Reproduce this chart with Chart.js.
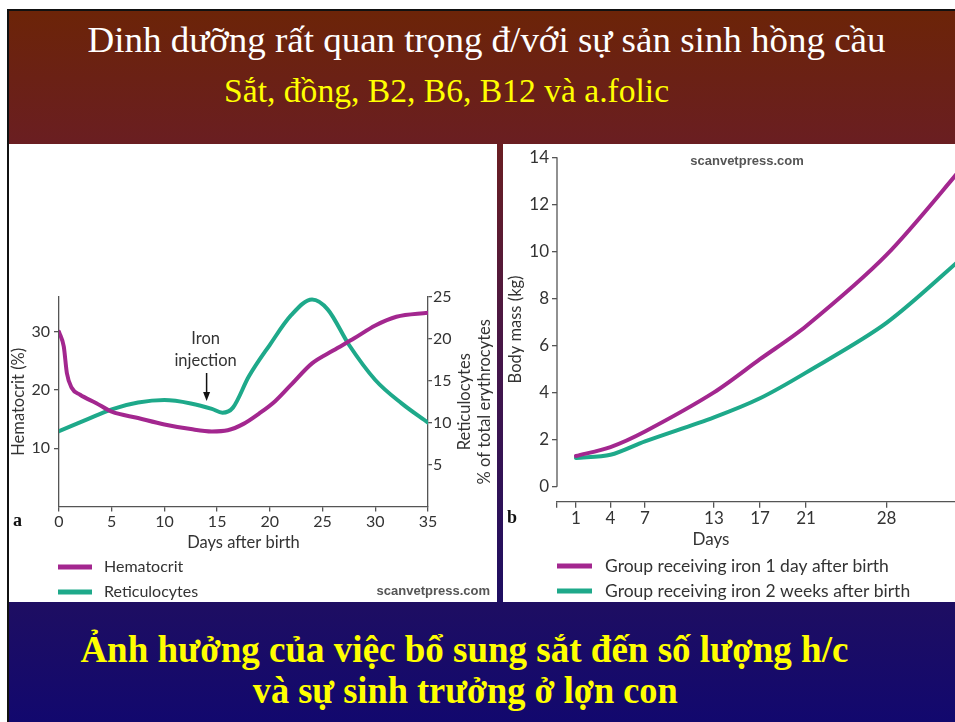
<!DOCTYPE html>
<html>
<head>
<meta charset="utf-8">
<script src="https://cdn.jsdelivr.net/npm/chart.js@4.4.0/dist/chart.umd.min.js"></script>
<style>
  html, body { margin: 0; padding: 0; }
  body { width: 955px; height: 722px; overflow: hidden; background: #fff; position: relative; }
  #slide {
    position: absolute; left: 7px; top: 9px; width: 948px; height: 713px; box-sizing: border-box;
    border-left: 2px solid #111; border-top: 2px solid #111;
    background: linear-gradient(to bottom, #6c2408 0%, #6a1e22 19%, #44164a 50%, #1e0e62 83%, #12086e 100%);
  }
  .title { position: absolute; white-space: nowrap; font-family: "Liberation Serif", "Times New Roman", serif; line-height: 1; transform-origin: center center; }
  .panel { position: absolute; background: #fff; top: 144px; height: 458px; overflow: hidden; }
  #panelA { left: 9px; width: 488px; }
  #panelB { left: 503px; width: 452px; }
  canvas { position: absolute; left: 0; top: 0; }
</style>
</head>
<body>
<div id="slide"></div>

<div class="title" id="t1" data-cx="487" data-w="798" style="top:22px; font-size:36px; color:#fff;">Dinh dưỡng rất quan trọng đ/với sự sản sinh hồng cầu</div>
<div class="title" id="t2" data-cx="447" data-w="445" style="top:75px; font-size:33px; color:#ffff00;">Sắt, đồng, B2, B6, B12 và a.folic</div>
<div class="title" id="t3" data-cx="464" data-w="768" style="top:630px; font-size:38px; font-weight:bold; color:#ffff00;">Ảnh hưởng của việc bổ sung sắt đến số lượng h/c</div>
<div class="title" id="t4" data-cx="465" data-w="425" style="top:671px; font-size:38px; font-weight:bold; color:#ffff00;">và sự sinh trưởng ở lợn con</div>

<div class="panel" id="panelA"><canvas id="chartA" width="488" height="458"></canvas></div>
<div class="panel" id="panelB"><canvas id="chartB" width="500" height="458"></canvas></div>

<script>
// ---- chart a: hematocrit & reticulocytes ----
const hctDays   = [0, 0.45, 0.75, 1.2, 2, 3.5, 5, 7.5, 10, 12.5, 14.5, 16, 17.5, 19, 20.5, 22, 24, 26, 28, 30, 32, 35];
const hctValues = [30, 27.5, 22.9, 20.4, 19.2, 17.8, 16.3, 15.2, 14.1, 13.3, 12.9, 13.1, 14.2, 16.0, 18.1, 20.9, 24.6, 26.8, 28.9, 31.1, 32.6, 33.3];

const retDays   = [0, 2.5, 5, 7.5, 10, 12.5, 14.5, 15.5, 16.5, 18, 20, 22, 24, 25.5, 27.5, 30, 32.5, 35];
const retValues = [9.0, 10.3, 11.6, 12.4, 12.7, 12.3, 11.65, 11.2, 11.8, 15.5, 19.3, 22.8, 24.7, 23.5, 19.3, 15.1, 12.3, 10.0];

const dayTicksA = [0, 5, 10, 15, 20, 25, 30, 35];
const hctTicks  = [10, 20, 30];
const retTicks  = [5, 10, 15, 20, 25];

// ---- chart b: body mass ----
const bDays        = [1, 4, 7, 13, 17, 21, 28, 35];
const ironOneDay   = [1.31, 1.69, 2.35, 4.01, 5.42, 6.82, 9.85, 13.8];
const ironTwoWeeks = [1.22, 1.36, 1.93, 2.95, 3.76, 4.85, 6.96, 9.9];
const dayTicksB    = [1, 4, 7, 13, 17, 21, 28, 35];
const massTicks    = [0, 2, 4, 6, 8, 10, 12, 14];

const MAGENTA = '#a3278f';
const TEAL = '#1ea98a';
const AXIS = '#555555';
const TEXT = '#333333';
const FONT = 'Lato, "Open Sans", sans-serif';

Chart.defaults.font.family = FONT;
Chart.defaults.color = TEXT;

// titles: centre and fit to the width seen on the slide
document.querySelectorAll('.title').forEach(el => {
  const w = el.getBoundingClientRect().width;
  const s = (+el.dataset.w) / w;
  el.style.left = (+el.dataset.cx - w / 2) + 'px';
  el.style.transform = 'scaleX(' + s + ')';
});

function pts(xs, ys) { return xs.map((x, i) => ({ x: x, y: ys[i] })); }

function drawLegend(ctx, chart, x0, x1, tx, ys, size) {
  chart.data.datasets.forEach((ds, i) => {
    ctx.save();
    ctx.strokeStyle = ds.borderColor;
    ctx.lineWidth = 5;
    ctx.beginPath();
    ctx.moveTo(x0, ys[i]);
    ctx.lineTo(x1, ys[i]);
    ctx.stroke();
    ctx.fillStyle = TEXT;
    ctx.font = size + 'px ' + FONT;
    ctx.textBaseline = 'middle';
    ctx.textAlign = 'left';
    ctx.fillText(ds.label, tx, ys[i]);
    ctx.restore();
  });
}

const decorA = {
  id: 'decorA',
  afterDraw(chart) {
    const ctx = chart.ctx;
    const xs = chart.scales.x;
    const ca = chart.chartArea;

    // iron injection note
    const ax = xs.getPixelForValue(14);
    ctx.save();
    ctx.fillStyle = TEXT;
    ctx.font = '16.5px ' + FONT;
    ctx.textAlign = 'center';
    ctx.textBaseline = 'middle';
    ctx.fillText('Iron', ax - 1, 195);
    ctx.fillText('injection', ax - 1, 217);
    ctx.strokeStyle = '#111';
    ctx.fillStyle = '#111';
    ctx.lineWidth = 1.5;
    ctx.beginPath();
    ctx.moveTo(ax, 229);
    ctx.lineTo(ax, 250);
    ctx.stroke();
    ctx.beginPath();
    ctx.moveTo(ax - 3.5, 248);
    ctx.lineTo(ax + 3.5, 248);
    ctx.lineTo(ax, 257);
    ctx.closePath();
    ctx.fill();

    // right axis title, reading upwards
    ctx.fillStyle = TEXT;
    ctx.font = '16.5px ' + FONT;
    ctx.translate(0, (ca.top + ca.bottom) / 2);
    ctx.rotate(-Math.PI / 2);
    ctx.fillText('Reticulocytes', 0, 456);
    ctx.fillText('% of total erythrocytes', 0, 476);
    ctx.restore();

    // panel letter and credit
    ctx.save();
    ctx.fillStyle = '#111';
    ctx.font = 'bold 18px "Liberation Serif", serif';
    ctx.textBaseline = 'middle';
    ctx.fillText('a', 4, 377);
    ctx.fillStyle = '#555';
    ctx.font = 'bold 13px "Liberation Sans", Arial, sans-serif';
    ctx.textAlign = 'right';
    ctx.fillText('scanvetpress.com', 481, 447);
    ctx.restore();

    drawLegend(ctx, chart, 49, 83, 95, [423, 448], 16);
  }
};

const decorB = {
  id: 'decorB',
  afterDraw(chart) {
    const ctx = chart.ctx;
    const ys = chart.scales.y;
    const ca = chart.chartArea;
    ctx.save();
    ctx.strokeStyle = AXIS;
    ctx.lineWidth = 1.3;
    ctx.beginPath();
    ctx.moveTo(ca.left, ys.getPixelForValue(0));
    ctx.lineTo(ca.left, ys.getPixelForValue(14));
    ctx.stroke();

    ctx.fillStyle = TEXT;
    ctx.font = '17px ' + FONT;
    ctx.textAlign = 'center';
    ctx.textBaseline = 'middle';
    ctx.fillText('Days', 208, 396);

    ctx.fillStyle = '#555';
    ctx.font = 'bold 13px "Liberation Sans", Arial, sans-serif';
    ctx.fillText('scanvetpress.com', 244, 17);

    ctx.fillStyle = '#111';
    ctx.font = 'bold 18px "Liberation Serif", serif';
    ctx.textAlign = 'left';
    ctx.fillText('b', 4, 374);
    ctx.restore();

    drawLegend(ctx, chart, 54, 89, 102, [422, 447], 17.5);
  }
};

const tickFont = { size: 16, family: FONT };
const axisGrid = { display: true, drawOnChartArea: false, drawTicks: true, tickLength: 5, color: AXIS, lineWidth: 1.3 };
const axisBorder = { display: true, color: AXIS, width: 1.3 };

new Chart(document.getElementById('chartA'), {
  type: 'line',
  data: {
    datasets: [
      { label: 'Hematocrit', data: pts(hctDays, hctValues), yAxisID: 'y', borderColor: MAGENTA, backgroundColor: MAGENTA,
        borderWidth: 4, pointRadius: 0, cubicInterpolationMode: 'monotone', borderCapStyle: 'round', fill: false },
      { label: 'Reticulocytes', data: pts(retDays, retValues), yAxisID: 'y1', borderColor: TEAL, backgroundColor: TEAL,
        borderWidth: 4, pointRadius: 0, cubicInterpolationMode: 'monotone', borderCapStyle: 'round', fill: false }
    ]
  },
  options: {
    responsive: false, animation: false, devicePixelRatio: 1,
    layout: { padding: { left: 0, top: 153, right: 0, bottom: 49.5 } },
    plugins: { legend: { display: false }, tooltip: { enabled: false } },
    scales: {
      x: {
        type: 'linear', min: 0, max: 35,
        afterBuildTicks: s => { s.ticks = dayTicksA.map(v => ({ value: v })); },
        afterFit: s => { s.height = 46; },
        grid: axisGrid, border: axisBorder,
        ticks: { font: tickFont, color: TEXT, padding: 1, maxRotation: 0, autoSkip: false },
        title: { display: true, text: 'Days after birth', font: { size: 16.5 }, color: TEXT, padding: 0 }
      },
      y: {
        position: 'left', min: 0, max: 36,
        afterBuildTicks: s => { s.ticks = hctTicks.map(v => ({ value: v })); },
        afterFit: s => { s.width = 50; },
        grid: axisGrid, border: axisBorder,
        ticks: { font: tickFont, color: TEXT, padding: 4 },
        title: { display: true, text: 'Hematocrit (%)', font: { size: 16.5 }, color: TEXT, padding: 0 }
      },
      y1: {
        position: 'right', min: 0, max: 25,
        afterBuildTicks: s => { s.ticks = retTicks.map(v => ({ value: v })); },
        afterFit: s => { s.width = 69; },
        grid: Object.assign({}, axisGrid, { tickLength: 4 }), border: axisBorder,
        ticks: { font: tickFont, color: TEXT, padding: 1 }
      }
    }
  },
  plugins: [decorA]
});

new Chart(document.getElementById('chartB'), {
  type: 'line',
  data: {
    datasets: [
      { label: 'Group receiving iron 1 day after birth', data: pts(bDays, ironOneDay), borderColor: MAGENTA, backgroundColor: MAGENTA,
        borderWidth: 4, pointRadius: 0, tension: 0.3, borderCapStyle: 'round', fill: false },
      { label: 'Group receiving iron 2 weeks after birth', data: pts(bDays, ironTwoWeeks), borderColor: TEAL, backgroundColor: TEAL,
        borderWidth: 4, pointRadius: 0, tension: 0.3, borderCapStyle: 'round', fill: false }
    ]
  },
  options: {
    responsive: false, animation: false, devicePixelRatio: 1,
    layout: { padding: { left: 0, top: 11, right: 36, bottom: 70.3 } },
    plugins: { legend: { display: false }, tooltip: { enabled: false } },
    scales: {
      x: {
        type: 'linear', min: -0.65, max: 35,
        afterBuildTicks: s => { s.ticks = [s.min].concat(dayTicksB).map(v => ({ value: v })); },
        afterFit: s => { s.height = 30; },
        grid: Object.assign({}, axisGrid, { tickLength: 6 }), border: axisBorder,
        ticks: { font: { size: 17, family: FONT }, color: TEXT, padding: 1, maxRotation: 0, autoSkip: false,
                 callback: v => (v < 0 ? '' : v) }
      },
      y: {
        min: -0.633, max: 14,
        afterBuildTicks: s => { s.ticks = massTicks.map(v => ({ value: v })); },
        afterFit: s => { s.width = 54; },
        grid: axisGrid, border: { display: false },
        ticks: { font: { size: 17, family: FONT }, color: TEXT, padding: 3 },
        title: { display: true, text: 'Body mass (kg)', font: { size: 16.5 }, color: TEXT, padding: 2.4 }
      }
    }
  },
  plugins: [decorB]
});
</script>
</body>
</html>
